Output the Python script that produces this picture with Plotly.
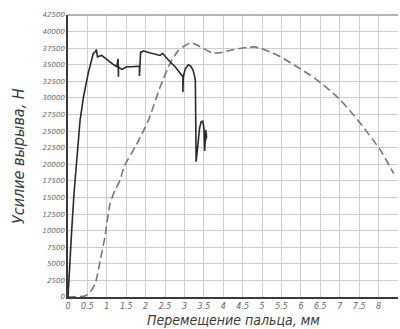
import plotly.graph_objects as go

# Solid curve: pull-out force vs. pin displacement (measured)
solid_x = [0.0, 0.01, 0.02, 0.05, 0.10, 0.155, 0.20, 0.31, 0.40, 0.52, 0.65, 0.71, 0.73, 0.74, 0.76, 0.80, 0.87,
           0.98, 1.08, 1.18, 1.26, 1.29, 1.30, 1.30, 1.31, 1.39, 1.51, 1.65, 1.80, 1.84, 1.84, 1.85, 1.87, 1.90,
           1.94, 2.05, 2.20, 2.37, 2.44, 2.55, 2.65, 2.76, 2.88, 2.96, 2.96, 2.97, 3.02, 3.10, 3.16, 3.22, 3.26,
           3.28, 3.29, 3.30, 3.32, 3.35, 3.39, 3.43, 3.47, 3.50, 3.51, 3.52, 3.53, 3.55, 3.55, 3.56, 3.57]
solid_y = [0, 1200, 2500, 5500, 10500, 15600, 19100, 26600, 30200, 33700, 36700, 37000, 37300, 36600, 36200, 36300, 36400,
           35900, 35400, 35000, 34700, 35900, 33200, 34700, 34600, 34300, 34700, 34700, 34700, 34800, 33300, 36500, 36900, 36900,
           37100, 36900, 36700, 36400, 36700, 35900, 35300, 34700, 33900, 33200, 30900, 33200, 34400, 35000, 34800, 34200, 33300,
           32600, 26600, 20400, 21500, 23500, 25500, 26400, 26500, 25500, 24000, 22000, 23200, 25200, 23600, 24800, 24000]

# Dashed curve: pull-out force vs. pin displacement (calculated)
dash_x = [0.0, 0.20, 0.44, 0.57, 0.70, 0.83, 0.95, 1.08, 1.21, 1.34, 1.45, 1.73, 2.07, 2.37, 2.63, 2.85, 3.02, 3.17,
          3.41, 3.71, 3.92, 4.27, 4.78, 4.95, 5.21, 5.47, 5.90, 6.25, 6.59, 6.98, 7.36, 7.54, 8.05, 8.39]
dash_y = [0, 50, 150, 750, 2000, 5500, 9000, 14000, 16100, 17600, 19700, 22600, 26600, 31600, 35200, 37200, 37900, 38300,
          37700, 36800, 36800, 37300, 37700, 37500, 36900, 36200, 34700, 33400, 31900, 29900, 27400, 26100, 22100, 18600]

x_ticks = [0, 0.5, 1, 1.5, 2, 2.5, 3, 3.5, 4, 4.5, 5, 5.5, 6, 6.5, 7, 7.5, 8, 8.5]
x_tick_labels = ["0", "0.5", "1", "1.5", "2", "2.5", "3", "3.5", "4", "4.5", "5", "5.5", "6", "6.5", "7", "7.5", "8", "8.5"]
y_ticks = list(range(0, 42501, 2500))
y_tick_labels = [str(v) for v in y_ticks]

x_title = "Перемещение пальца, мм"
y_title = "Усилие вырыва, Н"

FONT = "DejaVu Sans"
TITLE_FONT = "DejaVu Sans Condensed, DejaVu Sans"

fig = go.Figure()
fig.add_trace(go.Scatter(x=dash_x, y=dash_y, mode="lines",
                         line=dict(color="#777777", width=1.6, dash="8px,4px", shape="spline", smoothing=0.6),
                         hoverinfo="skip", showlegend=False))
fig.add_trace(go.Scatter(x=solid_x, y=solid_y, mode="lines",
                         line=dict(color="#2a2a2a", width=1.6),
                         hoverinfo="skip", showlegend=False))

fig.update_layout(
    width=400, height=329,
    margin=dict(l=68, r=2, t=15, b=32),
    paper_bgcolor="white", plot_bgcolor="white",
    font=dict(family=FONT, color="#777777"),
    xaxis=dict(range=[0, 8.5], tickvals=x_ticks, ticktext=x_tick_labels, automargin=False,
               showgrid=True, gridcolor="#cdcdcd", gridwidth=1,
               showline=True, linecolor="#3a3a3a", linewidth=1.5,
               zeroline=False, ticks="", ticklen=0, ticklabelstandoff=1,
               tickfont=dict(family=FONT, size=8, color="#666666", style="italic")),
    yaxis=dict(range=[0, 42500], tickvals=y_ticks, ticktext=y_tick_labels, automargin=False,
               showgrid=True, gridcolor="#cdcdcd", gridwidth=1,
               showline=True, linecolor="#3a3a3a", linewidth=1.5,
               zeroline=False, ticks="", ticklen=0,
               tickfont=dict(family=FONT, size=7, color="#666666", style="italic")),
    shapes=[dict(type="line", xref="paper", yref="paper", x0=0, x1=1, y0=1, y1=1,
                 line=dict(color="#9a9a9a", width=1.5))],
    annotations=[
        dict(text=x_title, xref="paper", yref="paper", x=0.5, y=0, yshift=-23,
             xanchor="center", yanchor="middle", showarrow=False,
             font=dict(family=TITLE_FONT, size=14, color="#3a3a3a", style="italic")),
        dict(text=y_title, xref="paper", yref="paper", x=0, y=0.5, xshift=-50,
             xanchor="center", yanchor="middle", textangle=-90, showarrow=False,
             font=dict(family=TITLE_FONT, size=16, color="#3a3a3a", style="italic")),
    ],
)

fig.write_html("out.html", config={"displayModeBar": False},
               post_script="document.body.style.margin='0';document.body.style.overflow='hidden';")
